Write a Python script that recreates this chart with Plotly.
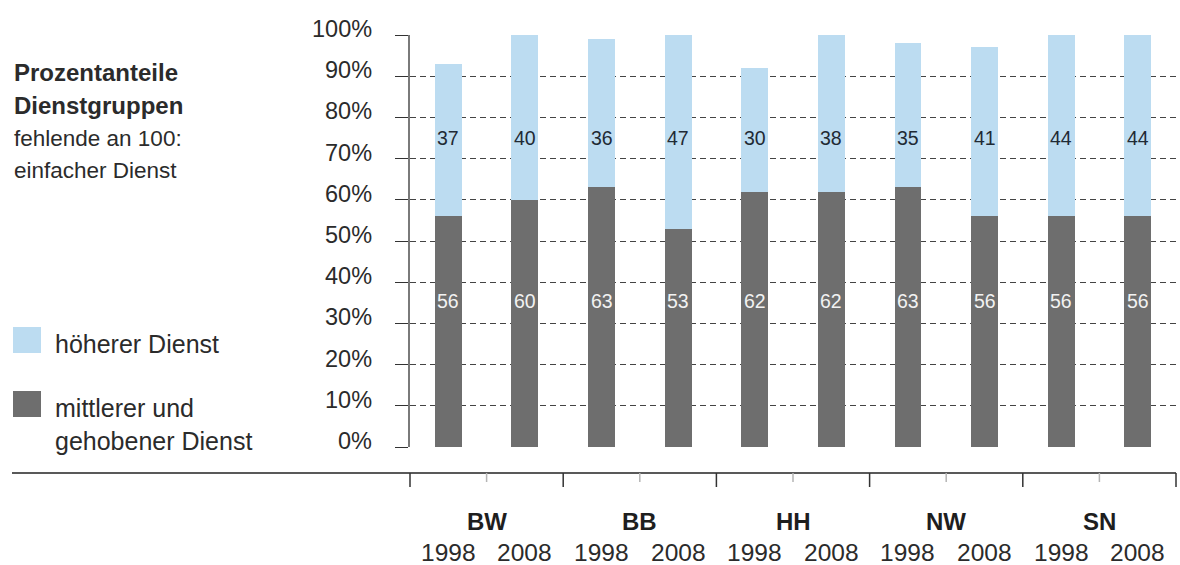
import plotly.graph_objects as go

# Data: share of service groups per federal state and year (percent)
laender = ["BW", "BB", "HH", "NW", "SN"]
jahre = ["1998", "2008"]
mittlerer_gehobener = [56, 60, 63, 53, 62, 62, 63, 56, 56, 56]
hoeherer = [37, 40, 36, 47, 30, 38, 35, 41, 44, 44]
y_ticks = [0, 10, 20, 30, 40, 50, 60, 70, 80, 90, 100]

# Colours and fonts
DARK = "#6e6e6e"
LIGHT = "#bcdcf1"
TEXT = "#2b2b2b"
FONT = "Liberation Sans, Arial, sans-serif"

# Figure geometry (pixels)
W, H = 1180, 565
PLOT_L, PLOT_R, PLOT_T, PLOT_B = 410, 1176, 35, 447

n_bars = len(laender) * len(jahre)
x_pos = list(range(n_bars))
year_labels = [jahre[i % 2] for i in x_pos]
XMIN, XMAX = -0.5, n_bars - 0.5


def px_x(px):
    """Horizontal pixel -> paper coordinate."""
    return (px - PLOT_L) / (PLOT_R - PLOT_L)


def px_y(py):
    """Vertical pixel -> paper coordinate."""
    return (PLOT_B - py) / (PLOT_B - PLOT_T)


def data_x(v):
    """Category position -> paper coordinate."""
    return (v - XMIN) / (XMAX - XMIN)


fig = go.Figure()
fig.add_trace(go.Bar(
    x=x_pos, y=mittlerer_gehobener, marker=dict(color=DARK, line=dict(width=0)),
    width=0.35, name="mittlerer und gehobener Dienst", hoverinfo="skip",
))
fig.add_trace(go.Bar(
    x=x_pos, y=hoeherer, marker=dict(color=LIGHT, line=dict(width=0)),
    width=0.35, name="höherer Dienst", hoverinfo="skip",
))

annotations = []
shapes = []

# Percent labels of the value axis, set slightly above their ticks
for v in y_ticks:
    annotations.append(dict(
        x=px_x(374), y=v, xref="paper", yref="y", text=f"{v}%",
        xanchor="right", yanchor="middle", yshift=6, showarrow=False,
        font=dict(family=FONT, size=23.5, color=TEXT),
    ))

# Value labels inside the bars
for i in x_pos:
    annotations.append(dict(
        x=i, y=35.5, xref="x", yref="y", text=str(mittlerer_gehobener[i]),
        yanchor="middle", showarrow=False,
        font=dict(family=FONT, size=19.5, color="#f2f2f2"),
    ))
    annotations.append(dict(
        x=i, y=75, xref="x", yref="y", text=str(hoeherer[i]),
        yanchor="middle", showarrow=False,
        font=dict(family=FONT, size=19.5, color="#1f2a35"),
    ))

# Category axis below the plot
AX_Y = 473
shapes.append(dict(
    type="line", xref="paper", yref="paper",
    x0=px_x(12), x1=data_x(XMAX), y0=px_y(AX_Y), y1=px_y(AX_Y),
    line=dict(color="#222222", width=1.5),
))
for k in range(n_bars + 1):
    xv = data_x(XMIN + k)
    major = k % 2 == 0
    shapes.append(dict(
        type="line", xref="paper", yref="paper",
        x0=xv, x1=xv, y0=px_y(AX_Y), y1=px_y(AX_Y + (14 if major else 9)),
        line=dict(color="#333333" if major else "#b5b5b5", width=1.5),
    ))

for g, land in enumerate(laender):
    annotations.append(dict(
        x=2 * g + 0.5, y=px_y(521), xref="x", yref="paper", text=f"<b>{land}</b>",
        xanchor="center", yanchor="middle", showarrow=False,
        font=dict(family=FONT, size=24, color="#1e1e1e"),
    ))
for i in x_pos:
    annotations.append(dict(
        x=i, y=px_y(552), xref="x", yref="paper", text=year_labels[i],
        xanchor="center", yanchor="middle", showarrow=False,
        font=dict(family=FONT, size=24.5, color=TEXT),
    ))

# Left-hand description
left_lines = [
    ("<b>Prozentanteile</b>", 73, 24),
    ("<b>Dienstgruppen</b>", 105, 24),
    ("fehlende an 100:", 138, 22.5),
    ("einfacher Dienst", 170, 22.5),
]
for txt, py, size in left_lines:
    annotations.append(dict(
        x=px_x(12), y=px_y(py), xref="paper", yref="paper", text=txt,
        xanchor="left", yanchor="middle", showarrow=False,
        font=dict(family=FONT, size=size, color=TEXT),
    ))

# Legend
legend_items = [
    (LIGHT, 327, [("höherer Dienst", 344)]),
    (DARK, 391, [("mittlerer und", 408), ("gehobener Dienst", 441)]),
]
for color, top, lines in legend_items:
    shapes.append(dict(
        type="rect", xref="paper", yref="paper",
        x0=px_x(13), x1=px_x(41), y0=px_y(top), y1=px_y(top + 26),
        fillcolor=color, line=dict(width=0),
    ))
    for txt, py in lines:
        annotations.append(dict(
            x=px_x(53), y=px_y(py), xref="paper", yref="paper", text=txt,
            xanchor="left", yanchor="middle", showarrow=False,
            font=dict(family=FONT, size=25, color=TEXT),
        ))

fig.update_layout(
    width=W, height=H,
    margin=dict(l=PLOT_L, r=W - PLOT_R, t=PLOT_T, b=H - PLOT_B),
    paper_bgcolor="white", plot_bgcolor="white",
    barmode="stack", showlegend=False,
    xaxis=dict(range=[XMIN, XMAX], visible=False, fixedrange=True),
    yaxis=dict(
        range=[0, 100], tickvals=y_ticks, showticklabels=False,
        showline=True, linecolor="#7a7a7a", linewidth=1.5,
        ticks="outside", ticklen=13, tickcolor="#333333", tickwidth=1,
        showgrid=True, gridcolor="#444444", gridwidth=1, griddash="6px,4px",
        zeroline=False, fixedrange=True,
    ),
    annotations=annotations, shapes=shapes,
)

fig.write_html("out.html")
